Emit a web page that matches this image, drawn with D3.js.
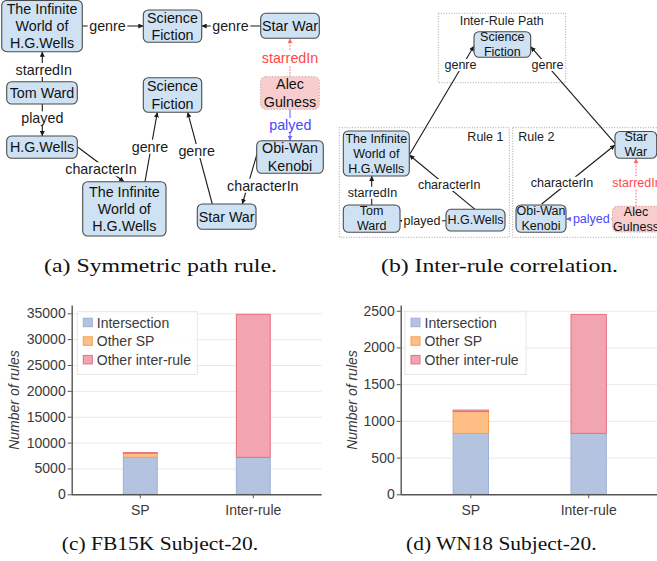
<!DOCTYPE html>
<html><head><meta charset="utf-8">
<script src="https://cdn.jsdelivr.net/npm/d3@7"></script>
<style>body{margin:0;background:#fff} svg{display:block}</style>
</head><body>
<svg id="fig" width="657" height="561"></svg>
<script>
// ---------- chart data ----------
const categories = ["SP", "Inter-rule"];
const seriesNames = ["Intersection", "Other SP", "Other inter-rule"];
const fbIntersection = [7150, 7150];
const fbOtherSP = [780, 0];
const fbOtherInterRule = [130, 27650];
const wnIntersection = [830, 830];
const wnOtherSP = [297, 0];
const wnOtherInterRule = [20, 1620];
const fbTicks = [0, 5000, 10000, 15000, 20000, 25000, 30000, 35000];
const wnTicks = [0, 500, 1000, 1500, 2000, 2500];
const yTitle = "Number of rules";
const captions = ["(a) Symmetric path rule.", "(b) Inter-rule correlation.", "(c) FB15K Subject-20.", "(d) WN18 Subject-20."];

// ---------- diagram content ----------
const nodesA = [
  {id:"tiw1", lines:["The Infinite","World of","H.G.Wells"]},
  {id:"sf1", lines:["Science","Fiction"]},
  {id:"sw1", lines:["Star War"]},
  {id:"tw", lines:["Tom Ward"]},
  {id:"hg", lines:["H.G.Wells"]},
  {id:"tiw2", lines:["The Infinite","World of","H.G.Wells"]},
  {id:"sf2", lines:["Science","Fiction"]},
  {id:"sw2", lines:["Star War"]},
  {id:"ag", lines:["Alec","Gulness"], kind:"pink"},
  {id:"ow", lines:["Obi-Wan","Kenobi"]}
];
const edgesA = [
  {label:"genre"}, {label:"genre"}, {label:"starredIn"}, {label:"played"},
  {label:"characterIn"}, {label:"genre"}, {label:"genre"},
  {label:"starredIn", kind:"red"}, {label:"palyed", kind:"blue"}, {label:"characterIn"}
];
const nodesB = [
  {id:"sf", lines:["Science","Fiction"]},
  {id:"tiw", lines:["The Infinite","World of","H.G.Wells"]},
  {id:"tw", lines:["Tom","Ward"]},
  {id:"hg", lines:["H.G.Wells"]},
  {id:"ow", lines:["Obi-Wan","Kenobi"]},
  {id:"ag", lines:["Alec","Gulness"], kind:"pink"},
  {id:"sw", lines:["Star","War"]}
];
const edgesB = [
  {label:"genre"}, {label:"genre"}, {label:"characterIn"}, {label:"characterIn"},
  {label:"starredIn"}, {label:"played"}, {label:"palyed", kind:"blue"}, {label:"starredIn", kind:"red"}
];
const groupsB = [
  {label:"Inter-Rule Path", anchor:"middle"}, {label:"Rule 1", anchor:"end"}, {label:"Rule 2", anchor:"start"}
];

// ---------- layout (positions) ----------
const boxA = {
  tiw1:[1.7,0.5,82.3,51.7], sf1:[143.3,10,201.7,42.3], sw1:[260.7,13.3,319.3,38.3],
  tw:[6.7,81.7,77.3,104], hg:[6.7,136,77.3,158.3], tiw2:[82.7,181.7,166,236],
  sf2:[143.3,77.7,201.7,112.3], sw2:[197.3,204,256,229.3], ag:[260.7,76.7,319.3,109.3],
  ow:[256.7,140.7,323.3,173.3]
};
const geomA = [
  [82.3,26,143.3,26,107.5,26], [260.7,26,201.7,26,230.5,26],
  [42.3,81.7,42.3,51.7,43.8,70], [42.3,104,42.3,136,42.3,118.3],
  [77.3,146.7,124,181.7,101,169.3], [145,181.7,157.3,112.3,150,146.7],
  [212.3,204,187.7,112.3,196.7,151], [290,76.7,290,38.3,290,58.3],
  [290,109.3,290,140.7,290.3,125], [256.7,155,242.3,204,262.8,185.7]
];
const boxB = {
  sf:[474,31.7,530.7,57.3], tiw:[343.3,131,409.3,176], tw:[343.3,205,400,232.3],
  hg:[446,209.3,505,231], ow:[516,205,566,232.3], ag:[612.5,206.3,662,232], sw:[615,131.5,656.7,158.3]
};
const geomB = [
  [409.3,155,474,46,460.5,65], [615,143.3,530.7,46.7,547.5,65],
  [475,209.3,409.3,155,449.2,185], [541.7,204,615,145,562,182.7],
  [371.7,205,371.7,176,372.5,192.7], [446,220.7,400,220.7,422,220.7],
  [612.5,219,566,219,591.3,219], [636,206.3,636,158.3,637,182.7]
];
const groupBoxB = [
  [438.3,13.3,565.7,82.7,501.7,24.5], [339.3,127.7,509.3,237.3,503.5,140.5], [512.7,127.7,700,237.3,518.3,140.5]
];

const svg = d3.select("#fig");
const SANS = "'Liberation Sans', Arial, Helvetica, sans-serif";
const SERIF = "'Liberation Serif', 'Times New Roman', serif";
const edgeColors = {black:"#1a1a1a", red:"#ff6b6b", blue:"#6a6aff"};
const labelColors = {black:"#1a1a1a", red:"#ff4747", blue:"#4848ff"};

const defs = svg.append("defs");
Object.entries(edgeColors).forEach(([k,c]) => {
  defs.append("marker").attr("id","arr-"+k).attr("viewBox","0 0 10 10")
    .attr("refX",10).attr("refY",5).attr("markerWidth",5).attr("markerHeight",5)
    .attr("markerUnits","userSpaceOnUse").attr("orient","auto")
    .append("path").attr("d","M0,0L10,5L0,10z").attr("fill",c);
});

function drawDiagram(g, nodes, boxes, edges, geom, fs, lh) {
  const eg = g.append("g");
  edges.forEach((e,i) => {
    const [x1,y1,x2,y2,lx,ly] = geom[i];
    const k = e.kind || "black";
    eg.append("line").attr("x1",x1).attr("y1",y1).attr("x2",x2).attr("y2",y2)
      .attr("stroke",edgeColors[k]).attr("stroke-width",1.1)
      .attr("stroke-dasharray", k==="red" ? "1.5,1.5" : null)
      .attr("marker-end","url(#arr-"+k+")");
    const t = eg.append("text").attr("x",lx).attr("y",ly).attr("text-anchor","middle")
      .attr("dominant-baseline","central").attr("font-family",SANS).attr("font-size",fs)
      .attr("fill",labelColors[k]).text(e.label);
    const bb = t.node().getBBox();
    eg.insert("rect", function(){ return t.node(); })
      .attr("x",bb.x-1.5).attr("y",bb.y+1).attr("width",bb.width+3).attr("height",bb.height-2).attr("fill","#fff");
  });
  const ng = g.append("g");
  nodes.forEach(n => {
    const [x0,y0,x1,y1] = boxes[n.id];
    const pink = n.kind === "pink";
    ng.append("rect").attr("x",x0).attr("y",y0).attr("width",x1-x0).attr("height",y1-y0)
      .attr("rx",5).attr("fill", pink ? "#f8cdcd" : "#cfe2f3")
      .attr("stroke", pink ? "#d9a0a0" : "#4a4a4a").attr("stroke-width", pink ? 1 : 1.1)
      .attr("stroke-dasharray", pink ? "1.5,1.5" : null);
    const cx = (x0+x1)/2, cy = (y0+y1)/2;
    const m = n.lines.length;
    n.lines.forEach((ln,j) => {
      ng.append("text").attr("x", n.id==="ag" && x1>657 ? 636 : cx).attr("y", cy + (j-(m-1)/2)*lh)
        .attr("text-anchor","middle").attr("dominant-baseline","central")
        .attr("font-family",SANS).attr("font-size",fs).attr("fill","#111").text(ln);
    });
  });
}

const gb = svg.append("g");
groupsB.forEach((gr,i) => {
  const [x0,y0,x1,y1,tx,ty] = groupBoxB[i];
  gb.append("rect").attr("x",x0).attr("y",y0).attr("width",x1-x0).attr("height",y1-y0)
    .attr("fill","none").attr("stroke","#9a9a9a").attr("stroke-width",0.9).attr("stroke-dasharray","1,1.6");
  gb.append("text").attr("x",tx).attr("y",ty).attr("text-anchor",gr.anchor)
    .attr("font-family",SANS).attr("font-size",12.5).attr("fill","#222").text(gr.label);
});

drawDiagram(svg.append("g"), nodesA, boxA, edgesA, geomA, 14.3, 17.2);
drawDiagram(svg.append("g"), nodesB, boxB, edgesB, geomB, 12.5, 15);

// ---------- stacked bar charts ----------
const fills = {"Intersection":"#b4c3df", "Other SP":"#ffbe85", "Other inter-rule":"#f2a5b0"};
const strokes = {"Intersection":"#9cb1d9", "Other SP":"#f5a04c", "Other inter-rule":"#e66f7e"};

function drawChart(cfg) {
  const g = svg.append("g");
  const rows = categories.map((c,i) => ({cat:c, "Intersection":cfg.a[i], "Other SP":cfg.b[i], "Other inter-rule":cfg.c[i]}));
  const series = d3.stack().keys(seriesNames)(rows);
  const x = d3.scaleBand().domain(categories).range(cfg.xRange).paddingInner(0.7).paddingOuter(0.35);
  const y = d3.scaleLinear().domain([0, cfg.yMax]).range([cfg.yBottom, cfg.yTop]);
  g.append("g").selectAll("line").data(cfg.ticks.slice(1)).join("line")
    .attr("x1",cfg.axisX).attr("x2",cfg.gridEnd).attr("y1",d=>y(d)+0.5).attr("y2",d=>y(d)+0.5)
    .attr("stroke","#e9e9e9").attr("stroke-width",1);
  g.append("g").selectAll("g").data(series).join("g")
    .attr("fill",d=>fills[d.key]).attr("stroke",d=>strokes[d.key]).attr("stroke-width",1)
    .selectAll("rect").data(d=>d.filter(p=>p[1]-p[0]>0)).join("rect")
    .attr("x",d=>x(d.data.cat)).attr("width",x.bandwidth())
    .attr("y",d=>y(d[1])).attr("height",d=>Math.max(0.6, y(d[0])-y(d[1])));
  const ya = g.append("g").attr("transform",`translate(${cfg.axisX},0)`)
    .call(d3.axisLeft(y).tickValues(cfg.ticks).tickSize(4).tickSizeOuter(0).tickFormat(d3.format("d")));
  ya.select(".domain").attr("stroke","#555").attr("stroke-width",1.4);
  ya.selectAll(".tick line").attr("stroke","#555");
  ya.selectAll(".tick text").attr("font-family",SANS).attr("font-size",14).attr("fill","#3a3a3a").attr("x",-6);
  const xa = g.append("g").attr("transform",`translate(0,${cfg.yBottom})`)
    .call(d3.axisBottom(x).tickSize(4).tickSizeOuter(0));
  xa.select(".domain").attr("d",`M${cfg.axisX},0.5H${cfg.gridEnd}`).attr("stroke","#555").attr("stroke-width",1.4);
  xa.selectAll(".tick line").attr("stroke","#555");
  xa.selectAll(".tick text").attr("font-family",SANS).attr("font-size",14).attr("fill","#3a3a3a").attr("dy","0.95em");
  g.append("text").attr("transform",`translate(${cfg.titleX},${cfg.titleY}) rotate(-90)`)
    .attr("text-anchor","middle").attr("dominant-baseline","central").attr("font-family",SANS)
    .attr("font-size",14).attr("font-style","italic").attr("fill","#3a3a3a").text(yTitle);
  const [lx0,ly0,lx1,ly1] = cfg.legend;
  g.append("rect").attr("x",lx0).attr("y",ly0).attr("width",lx1-lx0).attr("height",ly1-ly0)
    .attr("fill","rgba(255,255,255,0.85)").attr("stroke","#e6e6e6");
  seriesNames.forEach((s,i) => {
    const cy = ly0 + 11 + i*18.6;
    g.append("rect").attr("x",lx0+6).attr("y",cy-4.5).attr("width",9).attr("height",8.5)
      .attr("fill",fills[s]).attr("stroke",strokes[s]);
    g.append("text").attr("x",lx0+19.5).attr("y",cy).attr("dominant-baseline","central")
      .attr("font-family",SANS).attr("font-size",14).attr("fill","#3a3a3a").text(s);
  });
}

drawChart({a:fbIntersection, b:fbOtherSP, c:fbOtherInterRule, ticks:fbTicks, yMax:36600,
  xRange:[83.8,309.8], yBottom:494.3, yTop:305, axisX:71.7, gridEnd:321.7,
  titleX:13.5, titleY:400, legend:[77.3,311.7,197.3,374.5]});
drawChart({a:wnIntersection, b:wnOtherSP, c:wnOtherInterRule, ticks:wnTicks, yMax:2578,
  xRange:[411.9,647.6], yBottom:494.3, yTop:305, axisX:400.7, gridEnd:657,
  titleX:352, titleY:400, legend:[405,311.7,526,374.5]});

// ---------- captions ----------
const capPos = [[160.5,271.5,233],[499.5,271.5,237],[160,550,196.5],[501.3,550,190.5]];
captions.forEach((c,i) => {
  const [cx,cy,w] = capPos[i];
  svg.append("text").attr("x",cx).attr("y",cy).attr("text-anchor","middle")
    .attr("font-family",SERIF).attr("font-size",19).attr("fill","#111")
    .attr("textLength",w).attr("lengthAdjust","spacingAndGlyphs").text(c);
});
</script>
</body></html>
